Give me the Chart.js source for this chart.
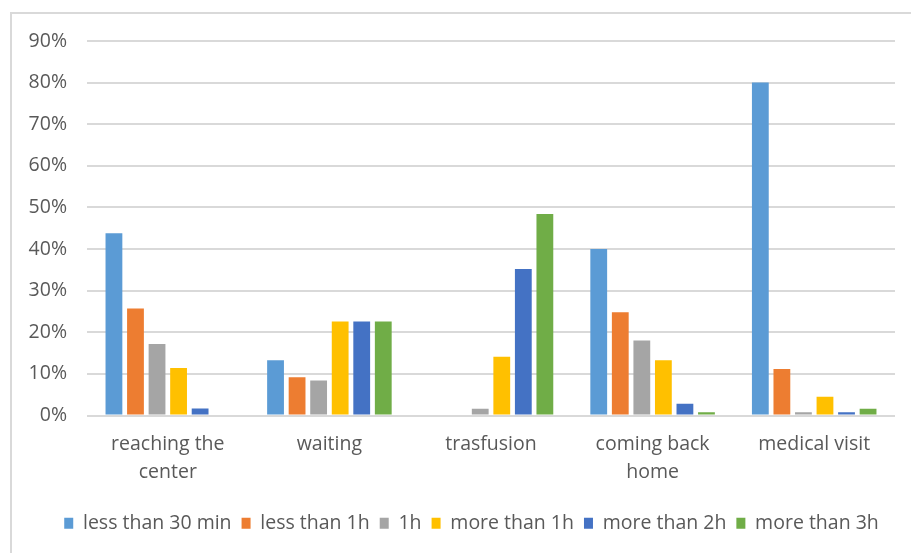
<!DOCTYPE html>
<html>
<head>
<meta charset="utf-8">
<script src="https://cdn.jsdelivr.net/npm/chart.js@4/dist/chart.umd.min.js"></script>
<style>
  html, body { margin: 0; padding: 0; background: #ffffff; }
  #wrap { width: 911px; height: 553px; }
</style>
</head>
<body>
<div id="wrap"><canvas id="chart" width="911" height="553"></canvas></div>
<script>
// Time spent on each step of the transfusion day (% of patients)
const categories = [["reaching the", "center"], "waiting", "trasfusion", ["coming back", "home"], "medical visit"];
const seriesNames = ["less than 30 min", "less than 1h", "1h", "more than 1h", "more than 2h", "more than 3h"];
const seriesColors = ["#5B9BD5", "#ED7D31", "#A5A5A5", "#FFC000", "#4472C4", "#70AD47"];

const lessThan30min = [43.8, 13.3, null, 40.0, 80.0];
const lessThan1h    = [25.7, 9.2, null, 24.8, 11.2];
const oneHour       = [17.2, 8.4, 1.6, 18.0, 0.8];
const moreThan1h    = [11.4, 22.6, 14.1, 13.3, 4.5];
const moreThan2h    = [1.7, 22.6, 35.2, 2.8, 0.8];
const moreThan3h    = [null, 22.6, 48.4, 0.8, 1.6];

const yTickMax = 90;
const yTickStep = 10;

const seriesValues = [lessThan30min, lessThan1h, oneHour, moreThan1h, moreThan2h, moreThan3h];

const textColor = "#595959";
const gridColor = "#D9D9D9";
const fontFamily = "'Open Sans', 'Noto Sans', sans-serif";

// white background and the light frame around the chart
const framePlugin = {
  id: "frame",
  beforeDraw(chart) {
    const ctx = chart.ctx;
    ctx.save();
    ctx.fillStyle = "#ffffff";
    ctx.fillRect(0, 0, chart.width, chart.height);
    ctx.strokeStyle = gridColor;
    ctx.lineWidth = 2;
    ctx.strokeRect(11, 13, 1000, 1000);
    ctx.restore();
  }
};

// centre the legend row on the whole frame rather than on the plot
const legendShiftPlugin = {
  id: "legendShift",
  beforeDraw(chart) {
    const lg = chart.legend;
    if (lg && !lg._shifted) {
      lg.left += 24;
      lg.right += 24;
      lg._shifted = true;
    }
  }
};

new Chart(document.getElementById("chart"), {
  type: "bar",
  data: {
    labels: categories,
    datasets: seriesNames.map((name, i) => ({
      label: name,
      data: seriesValues[i],
      backgroundColor: seriesColors[i],
      borderWidth: 0,
      categoryPercentage: 0.8,
      barPercentage: 0.78
    }))
  },
  options: {
    responsive: false,
    devicePixelRatio: 1,
    animation: false,
    layout: { padding: { left: 0, right: 16, top: 41, bottom: 10 } },
    plugins: {
      legend: {
        position: "bottom",
        align: "center",
        labels: {
          boxWidth: 9,
          boxHeight: 11,
          padding: 10,
          color: textColor,
          font: { family: fontFamily, size: 19.5 }
        }
      },
      tooltip: { enabled: false }
    },
    scales: {
      x: {
        grid: { display: false, drawTicks: false },
        border: { display: false },
        ticks: {
          color: textColor,
          padding: 15,
          maxRotation: 0,
          autoSkip: false,
          font: { family: fontFamily, size: 19.5, lineHeight: 1.44 }
        },
        afterFit(scale) { scale.height = 88; }
      },
      y: {
        min: 0,
        max: yTickMax,
        grid: { color: gridColor, lineWidth: 2, drawTicks: false },
        border: { display: false },
        ticks: {
          stepSize: yTickStep,
          color: textColor,
          padding: 20,
          font: { family: fontFamily, size: 19.5 },
          callback: v => v + "%"
        },
        afterFit(scale) { scale.width = 87; }
      }
    }
  },
  plugins: [framePlugin, legendShiftPlugin]
});
</script>
</body>
</html>
